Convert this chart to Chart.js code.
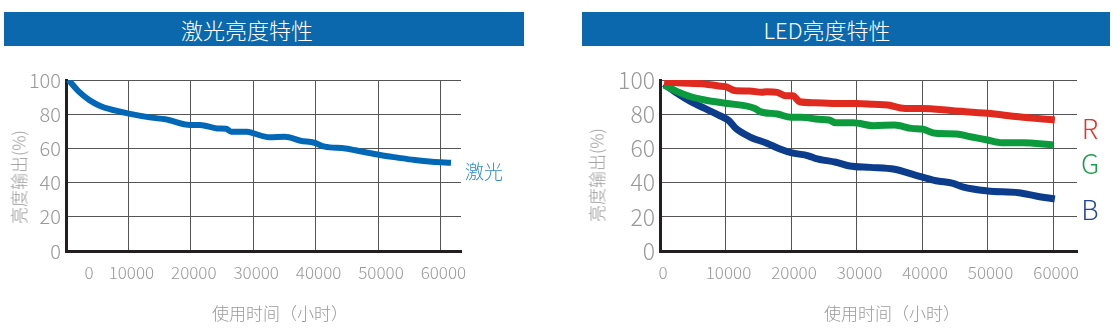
<!DOCTYPE html>
<html>
<head>
<meta charset="utf-8">
<script src="https://cdn.jsdelivr.net/npm/chart.js@4.4.1/dist/chart.umd.min.js"></script>
<style>
body{margin:0;width:1117px;height:333px;background:#fff;position:relative;overflow:hidden;font-family:"Noto Sans CJK SC","Noto Sans",sans-serif;font-weight:300;}
.bar{position:absolute;top:12px;height:34px;background:#0b68ad;color:#fff;font-size:22px;line-height:34px;text-align:center;box-sizing:border-box;}
.box{position:absolute;top:50px;height:283px;}
.lbl{position:absolute;white-space:nowrap;transform:translate(-50%,-50%);color:#999;font-size:17px;}
.ytitle{transform:translate(-50%,-50%) rotate(-90deg);}
.tag{position:absolute;transform:translate(-50%,-50%);line-height:1;}
</style>
</head>
<body>
<div class="bar" style="left:4px;width:520px;padding-right:34px;">激光亮度特性</div>
<div class="bar" style="left:582px;width:528px;padding-right:38px;">LED亮度特性</div>

<div class="box" style="left:0;width:530px;"><canvas id="laser" width="530" height="283"></canvas></div>
<div class="box" style="left:560px;width:557px;"><canvas id="led" width="557" height="283"></canvas></div>

<div class="lbl ytitle" style="left:18px;top:177px;">亮度输出(%)</div>
<div class="lbl ytitle" style="left:596px;top:175px;">亮度输出(%)</div>
<div class="lbl" style="left:280px;top:312px;">使用时间（小时）</div>
<div class="lbl" style="left:892px;top:312px;">使用时间（小时）</div>

<div class="tag" style="left:484px;top:170px;font-size:19px;color:#2b8acb;">激光</div>
<div class="tag" style="left:1090px;top:127px;font-size:27px;color:#e3342b;">R</div>
<div class="tag" style="left:1090px;top:162px;font-size:27px;color:#1a9e4b;">G</div>
<div class="tag" style="left:1090px;top:208px;font-size:27px;color:#27489a;">B</div>

<script>
// brightness (%) against hours of use
var laserHours  = [400, 2070, 3720, 5380, 7030, 9860, 13700, 15930, 19920, 21470, 24240, 25630, 26460, 28970, 30080, 32570, 35080, 37570, 39800, 41460, 44780, 47560, 50340, 53100, 55880, 58650, 61700];
var laserValues = [100, 93.2, 88.3, 85, 82.9, 80.5, 78, 77, 73.7, 73.7, 71.7, 71.5, 69.8, 69.8, 68.8, 66.5, 66.8, 64.5, 63.3, 61, 60, 58, 56.1, 54.6, 53.2, 52.2, 51.6];

var redHours  = [640, 2640, 6840, 8950, 10000, 11580, 13680, 15520, 16310, 17900, 19200, 20270, 21320, 23680, 26320, 30000, 32630, 34750, 37380, 40000, 44750, 50020, 54760, 60280];
var redValues = [99, 98.4, 97.7, 96.5, 96.1, 93.7, 93.6, 92.8, 93.2, 92.8, 90.8, 90.8, 87.3, 86.7, 86.3, 86.3, 85.8, 85.4, 83.4, 83.4, 82, 80.5, 78.5, 76.6];

var greenHours  = [640, 2640, 4730, 6840, 10000, 14490, 15270, 17900, 20000, 21590, 24210, 25790, 26850, 29490, 32630, 35800, 38430, 40000, 42120, 45270, 47380, 50000, 52120, 55280, 60000];
var greenValues = [97, 93.2, 90.2, 88.3, 86.4, 83.4, 81.5, 80.1, 78.2, 78.2, 77, 76.6, 75, 75, 73.3, 73.7, 71.7, 71.3, 68.8, 68.4, 66.8, 64.9, 63.3, 63.3, 62];

var blueHours  = [640, 2640, 4730, 6840, 8950, 10530, 11580, 13680, 16310, 18420, 20000, 22640, 23680, 26850, 28960, 32110, 35800, 38950, 42120, 44740, 46330, 50000, 54760, 57390, 60280];
var blueValues = [97.7, 92.2, 87.3, 83.4, 79.5, 76.2, 71.7, 66.8, 63, 59.5, 57.5, 55.7, 54.2, 51.9, 49.7, 48.9, 47.8, 44.4, 41.1, 39.6, 37.3, 35.1, 34.1, 32.2, 30.4];

var laserTickValues = [3200, 10000, 20000, 30000, 40000, 50000, 60000];
var ledTickValues   = [0, 10000, 20000, 30000, 40000, 50000, 60000];
var hourLabels      = ['0', '10000', '20000', '30000', '40000', '50000', '60000'];
var percentTicks    = [0, 20, 40, 60, 80, 100];

var tickFont = '"Noto Sans CJK SC", "Noto Sans", sans-serif';

function points(xs, ys){
	return xs.map(function(x, i){ return {x: x, y: ys[i]}; });
}

function line(xs, ys, color, width){
	return {
		data: points(xs, ys),
		borderColor: color,
		borderWidth: width,
		pointRadius: 0,
		fill: false,
		cubicInterpolationMode: 'monotone'
	};
}

function makeChart(id, datasets, o){
	var ctx = document.getElementById(id).getContext('2d');
	return new Chart(ctx, {
		type: 'line',
		data: {datasets: datasets},
		options: {
			responsive: false,
			animation: false,
			layout: {padding: {left: 0, top: 30, right: o.padRight, bottom: 0}},
			plugins: {legend: {display: false}, tooltip: {enabled: false}},
			scales: {
				x: {
					type: 'linear',
					min: 0,
					max: o.xMax,
					afterBuildTicks: function(scale){
						scale.ticks = o.tickValues.map(function(v){ return {value: v}; });
					},
					afterFit: function(scale){ scale.height = 82; },
					ticks: {
						autoSkip: false,
						maxRotation: 0,
						padding: 11,
						labelOffset: 3,
						color: '#999',
						font: {family: tickFont, size: 17, weight: '300'},
						callback: function(value, index){ return hourLabels[index]; }
					},
					grid: {
						drawTicks: false,
						lineWidth: 1,
						color: function(c){
							return (o.hideFirst && c.index === 0) ? 'rgba(0,0,0,0)' : '#555';
						}
					},
					border: {width: 3, color: '#231f20'}
				},
				y: {
					min: 0,
					max: 100,
					afterBuildTicks: function(scale){
						scale.ticks = percentTicks.map(function(v){ return {value: v}; });
					},
					afterFit: function(scale){ scale.width = o.yWidth; },
					ticks: {
						padding: 5,
						color: '#999',
						font: {family: tickFont, size: o.ySize, weight: '300'}
					},
					grid: {drawTicks: false, lineWidth: 1, color: '#555'},
					border: {width: 3, color: '#231f20'}
				}
			}
		}
	});
}

makeChart('laser', [
	line(laserHours, laserValues, '#0068b7', 6)
], {xMax: 63300, yWidth: 66, padRight: 69, ySize: 20, tickValues: laserTickValues, hideFirst: true});

makeChart('led', [
	line(redHours, redValues, '#e02a20', 7),
	line(greenHours, greenValues, '#0b9a3c', 7),
	line(blueHours, blueValues, '#0c3c8c', 7)
], {xMax: 63660, yWidth: 100, padRight: 40, ySize: 23, tickValues: ledTickValues, hideFirst: false});
</script>
</body>
</html>
